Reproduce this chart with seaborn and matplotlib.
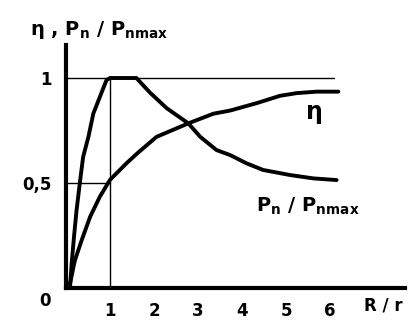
import matplotlib
matplotlib.use("Agg")
import matplotlib.pyplot as plt
import seaborn as sns
import pandas as pd

# Data
p_x = [0.09, 0.13, 0.18, 0.24, 0.32, 0.39, 0.51, 0.62, 0.77, 0.92, 1.0, 1.3, 1.6, 1.91, 2.29, 2.78,
       3.05, 3.42, 3.73, 4.1, 4.48, 5.09, 5.62, 6.15]
p_y = [0.0, 0.12, 0.24, 0.37, 0.51, 0.625, 0.72, 0.83, 0.91, 0.99, 1.0, 1.0, 1.0, 0.93, 0.856, 0.784,
       0.72, 0.657, 0.633, 0.594, 0.562, 0.538, 0.522, 0.514]

eta_x = [0.09, 0.2, 0.36, 0.55, 0.77, 1.0, 1.38, 1.64, 2.06, 2.78, 3.35, 3.73, 4.33, 4.86, 5.24, 5.7, 6.19]
eta_y = [0.02, 0.13, 0.23, 0.34, 0.435, 0.515, 0.595, 0.645, 0.72, 0.784, 0.83, 0.845, 0.88, 0.915, 0.928, 0.935, 0.935]

x_ticks = [1, 2, 3, 4, 5, 6]
y_ticks = [0.5, 1.0]
y_tick_labels = ["0,5", "1"]

sns.set_style("white")
plt.rcParams['font.family'] = ['DejaVu Sans']
plt.rcParams['font.weight'] = 'bold'
plt.rcParams['text.color'] = 'black'
plt.rcParams['xtick.color'] = 'black'
plt.rcParams['ytick.color'] = 'black'

fig = plt.figure(figsize=(4.09, 3.20), dpi=100)
ax = fig.add_axes([66/409, (320-288)/320, (405-66)/409, (288-45)/320])

df_p = pd.DataFrame({"x": p_x, "y": p_y})
df_e = pd.DataFrame({"x": eta_x, "y": eta_y})
sns.lineplot(data=df_p, x="x", y="y", ax=ax, color="black", lw=2.8, sort=False, estimator=None)
sns.lineplot(data=df_e, x="x", y="y", ax=ax, color="black", lw=2.8, sort=False, estimator=None)

# guide lines
ax.plot([0, 6.1], [1, 1], color="black", lw=1.0)
ax.plot([0, 1], [0.5, 0.5], color="black", lw=1.0)
ax.plot([1, 1], [0, 1], color="black", lw=1.0)

ax.set_xlim(0, (405-66)/44)
ax.set_ylim(0, (288-45)/210)

for s in ["top", "right"]:
    ax.spines[s].set_visible(False)
for s in ["left", "bottom"]:
    ax.spines[s].set_linewidth(3)
    ax.spines[s].set_color("black")

ax.set_xticks(x_ticks)
ax.set_xticklabels([str(t) for t in x_ticks], fontsize=12, fontweight="bold", color="black")
ax.tick_params(axis="x", direction="in", length=12, width=2.5, pad=10, color="black")
ax.set_yticks(y_ticks)
ax.set_yticklabels(y_tick_labels, fontsize=12, fontweight="bold", color="black")
ax.tick_params(axis="y", direction="in", length=0, pad=10)
ax.set_xlabel("")
ax.set_ylabel("")

ax.text(-0.48, -0.06, "0", fontsize=12, fontweight="bold", ha="center", va="center", clip_on=False)
fig.text(383/409, 1-305/320, "R / r", fontsize=12, fontweight="bold", ha="center", va="center")
fig.text(30/409, 1-30/320, "η , P$_\\mathbf{n}$ / P$_\\mathbf{nmax}$", fontsize=14, fontweight="bold", ha="left", va="center")
ax.text(5.65, 0.84, "η", fontsize=17, ha="center", va="center")
ax.text(5.5, 0.39, "P$_\\mathbf{n}$ / P$_\\mathbf{nmax}$", fontsize=14, fontweight="bold", ha="center", va="center")

fig.savefig("out.png", dpi=100)
